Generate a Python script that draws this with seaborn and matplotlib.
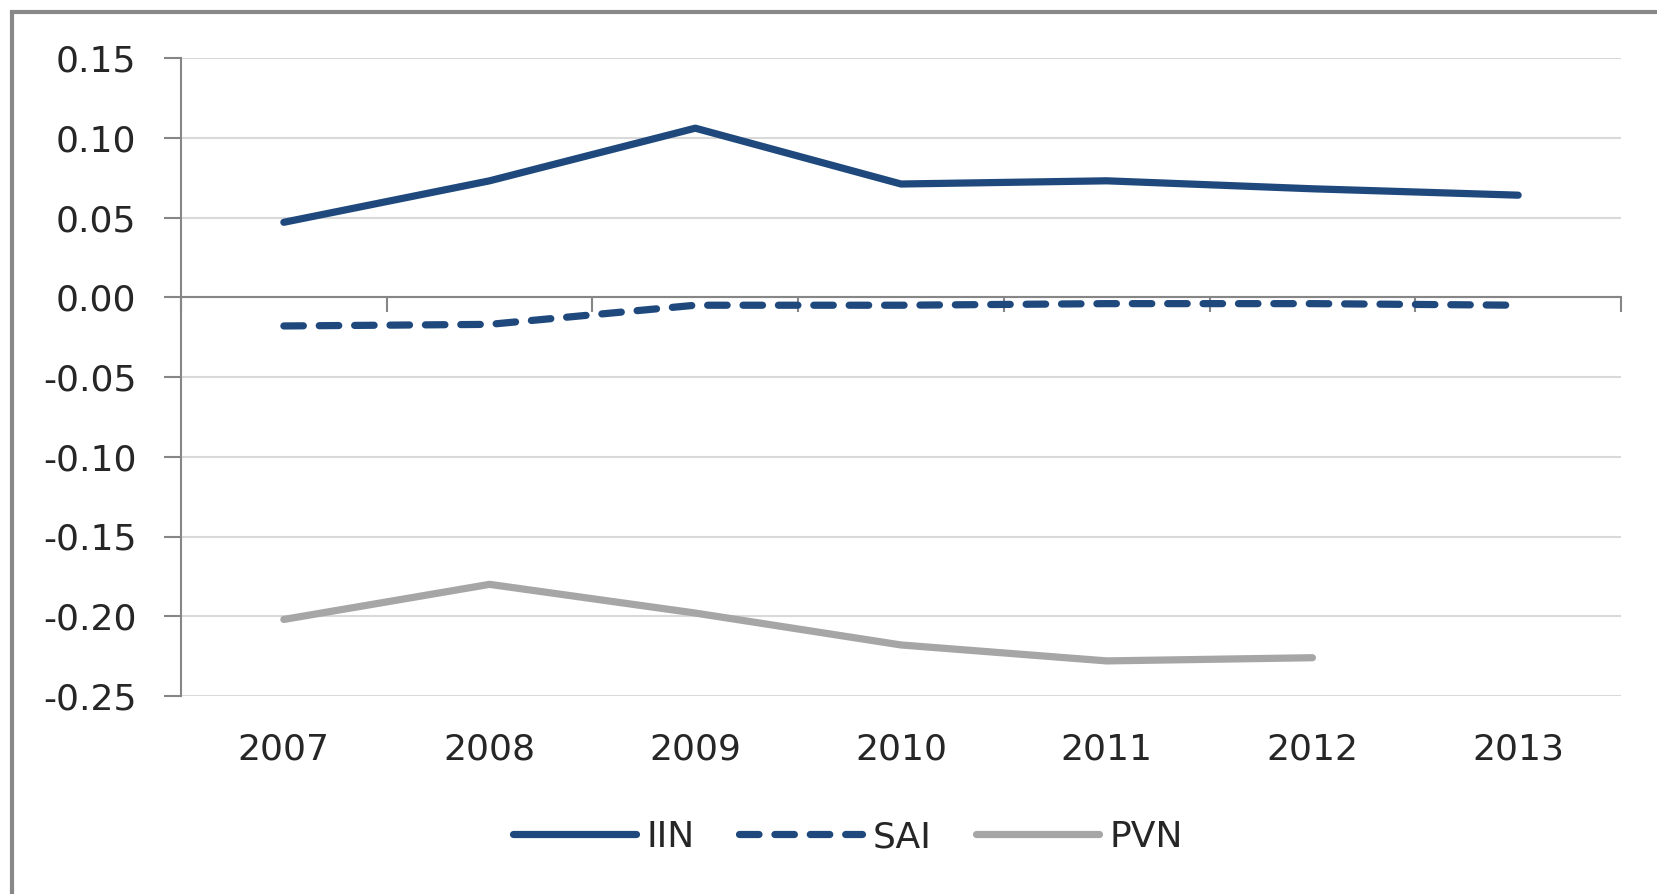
import matplotlib.pyplot as plt
import matplotlib.patches as patches
import numpy as np
import pandas as pd
import seaborn as sns

years = ['2007', '2008', '2009', '2010', '2011', '2012', '2013']
iin = [0.047, 0.073, 0.106, 0.071, 0.073, 0.068, 0.064]
sai = [-0.018, -0.017, -0.005, -0.005, -0.004, -0.004, -0.005]
pvn = [-0.202, -0.180, -0.198, -0.218, -0.228, -0.226, np.nan]
y_ticks = [0.15, 0.10, 0.05, 0.00, -0.05, -0.10, -0.15, -0.20, -0.25]

BLUE = '#1F497D'
GREY = '#A6A6A6'
AXIS = '#868686'
TXT = '#262626'
FS = 26
LW = 5.2

sns.set_style('white')
plt.rcParams['font.family'] = ['DejaVu Sans']

df = pd.DataFrame({'year': years, 'IIN': iin, 'SAI': sai, 'PVN': pvn})

W, H = 1657, 894
fig = plt.figure(figsize=(W / 100, H / 100), dpi=100)
ax = fig.add_axes([181 / W, 1 - 696 / H, 1440 / W, 638 / H])

sns.lineplot(data=df, x='year', y='IIN', ax=ax, color=BLUE, lw=LW,
             solid_capstyle='round', label='IIN')
sns.lineplot(data=df, x='year', y='SAI', ax=ax, color=BLUE, lw=LW,
             linestyle=(0, (2.7, 2.2)), dash_capstyle='round', label='SAI')
sns.lineplot(data=df, x='year', y='PVN', ax=ax, color=GREY, lw=LW,
             solid_capstyle='round', label='PVN')

ax.set_xlim(-0.5, len(years) - 0.5)
ax.set_ylim(-0.25, 0.15)
ax.set_xlabel('')
ax.set_ylabel('')

# gridlines
ax.yaxis.grid(True, color='#D9D9D9', lw=1.5)
ax.xaxis.grid(False)
ax.set_axisbelow(True)

# spines: excel style, category axis crosses at zero
for s in ['top', 'right']:
    ax.spines[s].set_visible(False)
ax.spines['left'].set_color(AXIS)
ax.spines['left'].set_linewidth(1.5)
ax.spines['bottom'].set_color(AXIS)
ax.spines['bottom'].set_linewidth(1.5)
ax.spines['bottom'].set_position(('data', 0))

ax.set_xticks(range(len(years)))
ax.set_xticks(np.arange(-0.5, len(years), 1), minor=True)
ax.tick_params(axis='x', which='major', length=0, labelbottom=False)
ax.tick_params(axis='x', which='minor', bottom=True, length=11, width=1.5,
               color=AXIS, direction='out')

ax.set_yticks(y_ticks)
ax.set_yticklabels([f'{v:.2f}' for v in y_ticks])
ax.tick_params(axis='y', left=True, length=12, width=1.5, color=AXIS,
               pad=20, labelsize=FS, labelcolor=TXT)

# year labels sit at the bottom of the plot area
sec = ax.secondary_xaxis('bottom')
sec.set_xticks(range(len(years)), labels=years)
sec.tick_params(length=0, pad=26, labelsize=FS, labelcolor=TXT)
sec.spines['bottom'].set_visible(False)

ax.legend(loc='center', bbox_to_anchor=(848 / W, 1 - 837 / H),
          bbox_transform=fig.transFigure, ncol=3, frameon=False,
          fontsize=FS, handlelength=3.4, handletextpad=0.28,
          columnspacing=1.25, labelcolor=TXT)

# chart frame (cut off at right and bottom)
frame = patches.Rectangle((11.5 / W, -0.1), 1.2, 1.1 - 12.5 / H,
                          transform=fig.transFigure, fill=False,
                          edgecolor='#888888', lw=3, clip_on=False)
fig.patches.append(frame)

plt.savefig('out.png', dpi=100)
